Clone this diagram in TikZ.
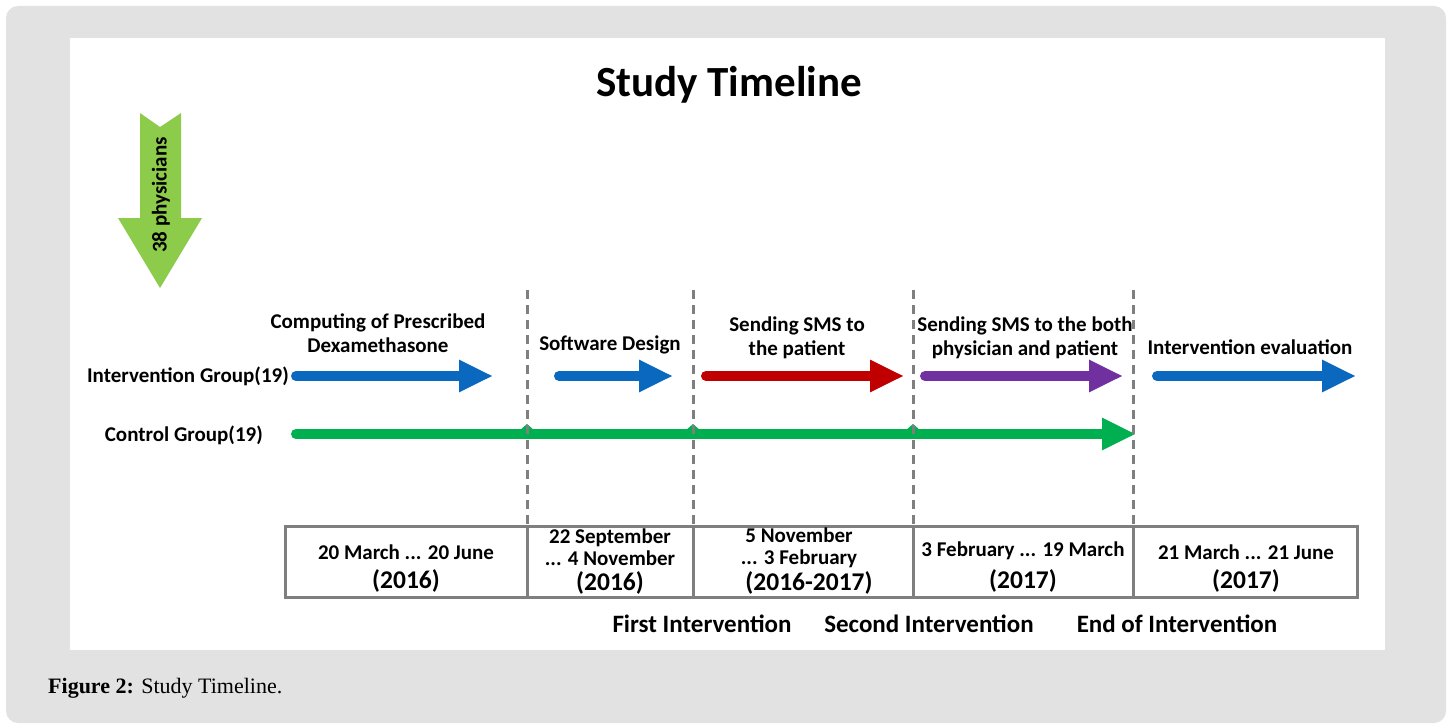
\documentclass[tikz,border=0pt]{standalone}
\usepackage{fontspec}
\setmainfont{Carlito}
\newfontfamily\capfont{Liberation Serif}
\usetikzlibrary{arrows.meta}
\definecolor{panel}{HTML}{E2E2E2}
\definecolor{gline}{HTML}{7F7F7F}
\definecolor{ablue}{HTML}{0A68BE}
\definecolor{ared}{HTML}{C00000}
\definecolor{apurple}{HTML}{7030A0}
\definecolor{agreen}{HTML}{00B050}
\definecolor{lgreen}{HTML}{8DCB4A}
\tikzset{
  fat/.style={line width=10pt, line cap=round, -{Triangle[length=34pt,width=30pt]}},
  lbl/.style={font=\bfseries\fontsize{21}{24}\selectfont, align=center, inner sep=0pt},
  cell/.style={font=\bfseries\fontsize{21}{22}\selectfont, align=center, inner sep=0pt},
  yr/.style={font=\bfseries\fontsize{25.5}{28}\selectfont, inner sep=0pt},
  mile/.style={font=\bfseries\fontsize{25}{28}\selectfont, inner sep=0pt},
  divider/.style={gline, line width=3pt, dash pattern=on 9pt off 6pt},
}
\begin{document}
\begin{tikzpicture}[x=1pt,y=-1pt]
\useasboundingbox (0,0) rectangle (1452,725);
\fill[white] (0,0) rectangle (1452,725);
\fill[panel, rounded corners=12pt] (6,6) rectangle (1446,723);
\fill[white] (70,38) rectangle (1385,650);
% title
\node[font=\bfseries\fontsize{43}{46}\selectfont, inner sep=0pt] (title) at (729,85) {Study Timeline};
% big green arrow
\fill[lgreen] (140,113) -- (160,127) -- (181,113) -- (181,218) -- (202,218) -- (160,288) -- (118,218) -- (140,218) -- cycle;
\node[rotate=90, font=\bfseries\fontsize{21}{24}\selectfont, inner sep=0pt] (phys) at (161,195) {38 physicians};
% group labels
\node[lbl, anchor=east] (ig) at (289,376) {Intervention Group(19)};
\node[lbl, anchor=east] (cg) at (263,435) {Control Group(19)};
% arrows
\coordinate (a1s) at (296,376); \coordinate (a1e) at (493,376);
\coordinate (a2s) at (559,376); \coordinate (a2e) at (673,376);
\coordinate (a3s) at (706,376); \coordinate (a3e) at (904,376);
\coordinate (a4s) at (925,376); \coordinate (a4e) at (1123,376);
\coordinate (a5s) at (1157,376); \coordinate (a5e) at (1356,376);
\coordinate (gs) at (296,434); \coordinate (ge) at (1136,434);
\draw[fat, ablue] (a1s) -- (a1e);
\draw[fat, ablue] (a2s) -- (a2e);
\draw[fat, ared] (a3s) -- (a3e);
\draw[fat, apurple] (a4s) -- (a4e);
\draw[fat, ablue] (a5s) -- (a5e);
\draw[fat, agreen] (gs) -- (ge);
% small bumps where the control line crosses the dividers
\foreach \x in {527,693,913}{
  \fill[agreen] (\x-8,431) -- (\x,424) -- (\x+8,431) -- cycle;
}
% dashed dividers
\foreach \x/\n in {527/a,693/b,913/c,1133/d}{
  \coordinate (top\n) at (\x,290);
  \coordinate (bot\n) at (\x,526);
  \draw[divider] (top\n) -- (bot\n);
}
% phase labels
\node[lbl] (p1) at (378,333) {Computing of Prescribed\\Dexamethasone};
\node[lbl] (p2) at (610,345) {Software Design};
\node[lbl] (p3) at (797,338) {Sending SMS to\\the patient};
\node[lbl] (p4) at (1025,338) {Sending SMS to the both\\physician and patient};
\node[lbl] (p5) at (1250,347) {Intervention evaluation};
% date box
\draw[gline, line width=3pt] (285,526) rectangle (1357,597);
\foreach \x/\n in {527/a,693/b,913/c,1133/d}{
  \draw[gline, line width=3pt] (bot\n) -- (\x,597);
}
\node[cell] (d1) at (406,552) {20 March ... 20 June};
\node[yr] (y1) at (406,581) {(2016)};
\node[cell] (d2) at (610,547) {22 September\\... 4 November};
\node[yr] (y2) at (610,583) {(2016)};
\node[cell] (d3) at (799,548) {5 November\\... 3 February};
\node[yr] (y3) at (809,583) {(2016-2017)};
\node[cell] (d4) at (1023,551) {3 February ... 19 March};
\node[yr] (y4) at (1023,581) {(2017)};
\node[cell] (d5) at (1246,552) {21 March ... 21 June};
\node[yr] (y5) at (1246,581) {(2017)};
% bottom labels
\node[mile] (m1) at (702,624) {First Intervention};
\node[mile] (m2) at (929,624) {Second Intervention};
\node[mile] (m3) at (1177,624) {End of Intervention};
% caption
\node[anchor=west, font=\capfont\fontsize{22}{24}\selectfont, inner sep=0pt] (cap) at (48,688) {\textbf{Figure 2:} Study Timeline.};
\end{tikzpicture}
\end{document}
